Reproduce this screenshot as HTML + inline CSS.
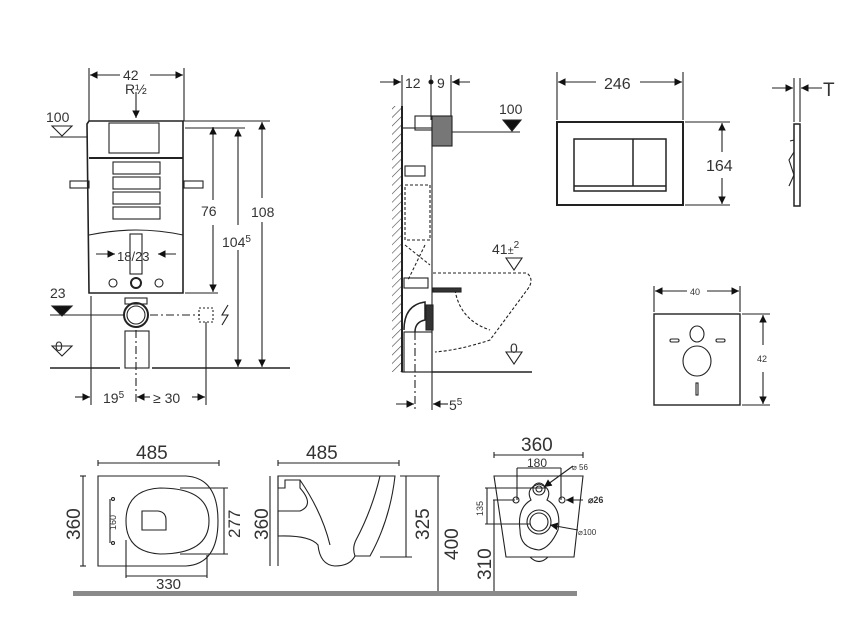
<!DOCTYPE html>
<html><head><meta charset="utf-8"><style>
html,body{margin:0;padding:0;background:#fff}
svg{display:block}
text{font-family:"Liberation Sans",sans-serif;fill:#333}
</style></head><body>
<svg width="851" height="630" viewBox="0 0 851 630" xmlns="http://www.w3.org/2000/svg">
<defs>
<marker id="a" viewBox="0 0 10 10" refX="10" refY="5" markerWidth="7" markerHeight="7" orient="auto-start-reverse"><path d="M0,0L10,5L0,10z" fill="#111"/></marker>
<pattern id="h" width="6" height="6" patternUnits="userSpaceOnUse" patternTransform="rotate(45)"><line x1="0" y1="0" x2="0" y2="6" stroke="#444" stroke-width="1.2"/></pattern>
</defs>
<g stroke="#222" fill="none" stroke-width="1.1">
<!-- LEFT FRAME -->
<line x1="89" y1="68" x2="89" y2="121"/><line x1="184" y1="68" x2="184" y2="121"/>
<line x1="90" y1="75" x2="120" y2="75" marker-start="url(#a)"/><line x1="150" y1="75" x2="183" y2="75" marker-end="url(#a)"/>
<path d="M87,124 L89,121 H183 V293 H89 Z" stroke-width="1.6"/>
<rect x="109" y="123" width="50" height="30"/>
<line x1="89" y1="158" x2="183" y2="158" stroke-width="2"/>
<rect x="113" y="162" width="47" height="12"/><rect x="113" y="177" width="47" height="12"/>
<rect x="113" y="192" width="47" height="12"/><rect x="113" y="207" width="47" height="12"/>
<rect x="70" y="181" width="19" height="7"/><rect x="184" y="181" width="19" height="7"/>
<path d="M89,235 Q136,225 183,235"/>
<rect x="130" y="234" width="12" height="40"/>
<circle cx="136" cy="283" r="5" stroke-width="2"/>
<circle cx="113" cy="283" r="4"/><circle cx="159" cy="283" r="4"/>
<line x1="96" y1="254" x2="115" y2="254" marker-end="url(#a)"/><line x1="176" y1="254" x2="158" y2="254" marker-end="url(#a)"/>
<line x1="50" y1="137" x2="87" y2="137"/>
<path d="M52,126 H72 L62,136 Z"/>
<path d="M52,306 H72 L62,316 Z" fill="#111"/>
<line x1="50" y1="315" x2="125" y2="315"/>
<line x1="150" y1="315" x2="200" y2="315" stroke-dasharray="8,3,2,3"/>
<circle cx="136" cy="315" r="12" stroke-width="2"/><circle cx="136" cy="315" r="9"/>
<rect x="125" y="298" width="22" height="6"/>
<rect x="125" y="331" width="24" height="37"/>
<rect x="199" y="308" width="14" height="14" stroke-dasharray="2,2"/>
<path d="M228,305 L222,315 L228,315 L222,325" />
<path d="M52,346 H72 L62,356 Z"/>
<line x1="50" y1="368" x2="120" y2="368" stroke-width="1.5"/><line x1="152" y1="368" x2="290" y2="368" stroke-width="1.5"/>
<line x1="140" y1="121" x2="270" y2="121"/><line x1="185" y1="128" x2="245" y2="128"/>
<line x1="185" y1="293" x2="218" y2="293"/>
<line x1="213" y1="127" x2="213" y2="200" marker-start="url(#a)"/><line x1="213" y1="225" x2="213" y2="292" marker-end="url(#a)"/>
<line x1="238" y1="129" x2="238" y2="225" marker-start="url(#a)"/><line x1="238" y1="250" x2="238" y2="367" marker-end="url(#a)"/>
<line x1="262" y1="122" x2="262" y2="198" marker-start="url(#a)"/><line x1="262" y1="222" x2="262" y2="367" marker-end="url(#a)"/>
<line x1="91" y1="296" x2="91" y2="405"/><line x1="136" y1="330" x2="136" y2="405" stroke-dasharray="8,3,2,3"/><line x1="206" y1="322" x2="206" y2="405"/>
<line x1="75" y1="397" x2="90" y2="397" marker-end="url(#a)"/>
<line x1="150" y1="397" x2="137" y2="397" marker-end="url(#a)"/>
<line x1="192" y1="397" x2="205" y2="397" marker-end="url(#a)"/>
<line x1="136" y1="92" x2="136" y2="118" marker-end="url(#a)"/>
<!-- MIDDLE SIDE -->
<rect x="392" y="106" width="10" height="266" fill="url(#h)" stroke="none"/>
<line x1="402" y1="106" x2="402" y2="372" stroke-width="2"/>
<line x1="402" y1="75" x2="402" y2="106"/><line x1="431" y1="75" x2="431" y2="120"/><line x1="451" y1="75" x2="451" y2="120"/>
<line x1="380" y1="82" x2="401" y2="82" marker-end="url(#a)"/><line x1="470" y1="82" x2="452" y2="82" marker-end="url(#a)"/>
<circle cx="431" cy="82" r="2" fill="#111"/>
<rect x="402" y="128" width="30" height="244"/>
<rect x="415" y="116" width="17" height="14"/>
<rect x="432" y="116" width="20" height="30" fill="#777"/>
<line x1="452" y1="132" x2="520" y2="132"/>
<path d="M503,120 H521 L512,131 Z" fill="#111"/>
<rect x="405" y="166" width="20" height="10"/>
<g stroke-dasharray="3,2"><rect x="405" y="185" width="25" height="55"/><path d="M405,245 L430,265 M425,245 L408,280"/>
<path d="M433,273 H527 Q535,280 527,290 L490,340 Q460,350 435,352"/>
<path d="M455,290 Q460,320 490,330"/></g>
<rect x="404" y="278" width="24" height="10"/>
<rect x="433" y="288" width="28" height="4" fill="#333"/>
<path d="M404,330 Q404,305 425,302 V320 Q415,322 415,332" stroke-width="1.5"/>
<rect x="426" y="305" width="7" height="25" fill="#333"/>
<rect x="404" y="332" width="28" height="40"/>
<line x1="415" y1="332" x2="415" y2="410" stroke-dasharray="8,3,2,3"/>
<line x1="432" y1="372" x2="432" y2="410"/>
<line x1="432" y1="372" x2="532" y2="372" stroke-width="1.5"/>
<path d="M506,258 H522 L514,270 Z"/>
<path d="M506,352 H522 L514,364 Z"/>
<line x1="396" y1="404" x2="414" y2="404" marker-end="url(#a)"/><line x1="448" y1="404" x2="433" y2="404" marker-end="url(#a)"/>
<!-- FLUSH PLATE -->
<line x1="557" y1="72" x2="557" y2="120"/><line x1="683" y1="72" x2="683" y2="120"/>
<line x1="558" y1="82" x2="596" y2="82" marker-start="url(#a)"/><line x1="640" y1="82" x2="682" y2="82" marker-end="url(#a)"/>
<rect x="557" y="122" width="126" height="83" stroke-width="2"/>
<rect x="574" y="139" width="92" height="52" stroke-width="1.5"/>
<line x1="633" y1="139" x2="633" y2="186" stroke-width="1.5"/>
<line x1="574" y1="186" x2="666" y2="186" stroke-width="1.5"/>
<line x1="685" y1="122" x2="730" y2="122"/><line x1="685" y1="205" x2="730" y2="205"/>
<line x1="722" y1="152" x2="722" y2="123" marker-end="url(#a)"/><line x1="722" y1="178" x2="722" y2="204" marker-end="url(#a)"/>
<line x1="794" y1="78" x2="794" y2="122"/><line x1="800" y1="78" x2="800" y2="122"/>
<line x1="772" y1="88" x2="793" y2="88" marker-end="url(#a)"/><line x1="822" y1="88" x2="801" y2="88" marker-end="url(#a)"/>
<path d="M794,124 H800 V206 H794 Z" stroke-width="1.5"/>
<path d="M794,140 L790,141 M794,152 L789,160 L794,175 L789,186"/>
<!-- MOUNT PLATE -->
<line x1="654" y1="286" x2="654" y2="312"/><line x1="740" y1="286" x2="740" y2="312"/>
<line x1="655" y1="291" x2="687" y2="291" marker-start="url(#a)"/><line x1="707" y1="291" x2="739" y2="291" marker-end="url(#a)"/>
<rect x="654" y="314" width="86" height="91" stroke-width="1.4"/>
<ellipse cx="697" cy="334" rx="7" ry="8"/>
<rect x="670" y="339" width="9" height="3" rx="1.5"/><rect x="716" y="339" width="9" height="3" rx="1.5"/>
<ellipse cx="697" cy="361" rx="14" ry="15"/>
<rect x="696" y="383" width="2" height="12"/>
<line x1="742" y1="314" x2="770" y2="314"/><line x1="742" y1="405" x2="770" y2="405"/>
<line x1="763" y1="345" x2="763" y2="315" marker-end="url(#a)"/><line x1="763" y1="372" x2="763" y2="404" marker-end="url(#a)"/>
<!-- BOTTOM TOP VIEW -->
<line x1="98" y1="463" x2="219" y2="463"/><line x1="98" y1="460" x2="98" y2="466"/><line x1="219" y1="460" x2="219" y2="466"/>
<line x1="83" y1="476" x2="83" y2="566"/><line x1="80" y1="476" x2="86" y2="476"/><line x1="80" y1="566" x2="86" y2="566"/>
<path d="M98,476 H186 Q218,478 218,521 Q218,564 186,566 H98 Z"/>
<path d="M160,488 Q209,488 209,521 Q209,554 160,554 Q126,552 126,521 Q126,490 160,488 Z"/>
<path d="M142,511 H158 Q166,512 166,520 V530 H142 Z"/>
<line x1="110" y1="499" x2="110" y2="543"/><circle cx="113" cy="499" r="1.5"/><circle cx="113" cy="543" r="1.5"/>
<line x1="180" y1="488" x2="228" y2="488"/><line x1="180" y1="554" x2="228" y2="554"/><line x1="224" y1="488" x2="224" y2="554"/>
<line x1="126" y1="540" x2="126" y2="578"/><line x1="207" y1="555" x2="207" y2="578"/><line x1="126" y1="576" x2="207" y2="576"/>
<!-- SIDE VIEW -->
<line x1="278" y1="463" x2="399" y2="463"/><line x1="278" y1="460" x2="278" y2="466"/><line x1="399" y1="460" x2="399" y2="466"/>
<line x1="270" y1="476" x2="270" y2="566"/>
<path d="M278,476 H395 Q390,520 370,556 H355 Q350,566 335,566 Q320,565 318,545 Q310,535 278,536 V511 H300 Q315,505 300,488 H300 V480 H285 V488 H278 Z"/>
<path d="M278,476 V566"/>
<path d="M300,480 Q322,512 330,545" /><path d="M380,476 Q372,510 356,540 Q352,548 355,556"/>
<line x1="400" y1="476" x2="440" y2="476"/><line x1="380" y1="557" x2="412" y2="557"/>
<line x1="406" y1="476" x2="406" y2="557"/>
<line x1="438" y1="476" x2="438" y2="591"/>
<!-- FRONT VIEW -->
<line x1="494" y1="455" x2="583" y2="455"/><line x1="494" y1="452" x2="494" y2="458"/><line x1="583" y1="452" x2="583" y2="458"/>
<line x1="517" y1="468" x2="561" y2="468"/><line x1="517" y1="468" x2="517" y2="500"/><line x1="561" y1="468" x2="561" y2="500"/>
<path d="M494,476 H583 L574,557 H506 Z"/>
<path d="M531,500 Q525,488 539,484 Q553,488 547,500 Q562,508 558,530 Q550,548 539,550 Q520,548 520,530 Q517,508 531,500 Z"/>
<circle cx="539" cy="489" r="6"/><circle cx="539" cy="489" r="3"/>
<circle cx="516" cy="500" r="3"/><circle cx="562" cy="500" r="3"/>
<circle cx="539" cy="522" r="12"/><circle cx="539" cy="522" r="9"/>
<path d="M530,557 Q539,566 548,557"/>
<line x1="487" y1="488" x2="487" y2="524"/><line x1="485" y1="488" x2="547" y2="488"/><line x1="485" y1="524" x2="530" y2="524"/>
<line x1="493" y1="500" x2="515" y2="500"/><line x1="494" y1="500" x2="494" y2="591"/>
<line x1="573" y1="466" x2="544" y2="487" marker-end="url(#a)"/>
<line x1="583" y1="500" x2="566" y2="500" marker-end="url(#a)"/>
<line x1="578" y1="530" x2="550" y2="525" marker-end="url(#a)"/>
</g>
<rect x="73" y="591" width="504" height="5" fill="#8a8a8a"/>
<!-- TEXT -->
<g font-size="14">
<text x="123" y="80">42</text><text x="125" y="94">R½</text>
<text x="46" y="122">100</text><text x="50" y="298">23</text><text x="55" y="351">0</text>
<text x="201" y="216">76</text><text x="222" y="247">104<tspan font-size="10" dy="-5">5</tspan></text>
<text x="251" y="217">108</text>
<text x="117" y="261" font-size="13">18/23</text>
<text x="103" y="403">19<tspan font-size="10" dy="-5">5</tspan></text>
<text x="153" y="403">≥ 30</text>
<text x="405" y="88">12</text><text x="437" y="88">9</text>
<text x="499" y="114">100</text>
<text x="492" y="254">41<tspan font-size="11">±</tspan><tspan font-size="10" dy="-6">2</tspan></text>
<text x="510" y="353">0</text>
<text x="449" y="410">5<tspan font-size="10" dy="-5">5</tspan></text>
<text x="604" y="89" font-size="16">246</text>
<text x="706" y="171" font-size="16">164</text>
<text x="823" y="96" font-size="19">T</text>
<text x="690" y="295" font-size="9">40</text>
<text x="757" y="362" font-size="9">42</text>
</g>
<g font-size="19">
<text x="136" y="459">485</text>
<text x="306" y="459">485</text>
<text x="521" y="451">360</text>
<text x="156" y="589" font-size="15">330</text>
<text x="527" y="467" font-size="12">180</text>
<text transform="translate(80,540) rotate(-90)">360</text>
<text transform="translate(240,538) rotate(-90)" font-size="17">277</text>
<text transform="translate(268,540) rotate(-90)">360</text>
<text transform="translate(429,540) rotate(-90)">325</text>
<text transform="translate(458,560) rotate(-90)">400</text>
<text transform="translate(491,580) rotate(-90)">310</text>
<text transform="translate(483,516) rotate(-90)" font-size="9">135</text>
<text transform="translate(116,530) rotate(-90)" font-size="9">160</text>
<text x="572" y="470" font-size="8">⌀ 56</text>
<text x="588" y="503" font-size="9" font-weight="bold">⌀26</text>
<text x="578" y="535" font-size="8">⌀100</text>
</g>
</svg>
</body></html>
